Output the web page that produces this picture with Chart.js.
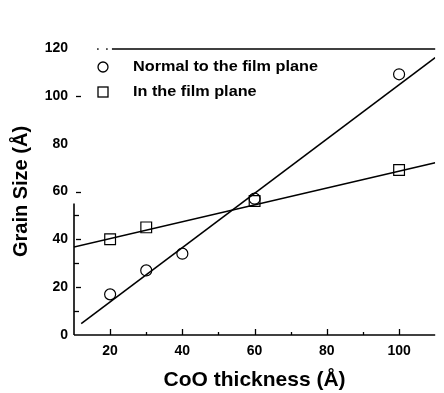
<!DOCTYPE html>
<html lang="en">
<head>
<meta charset="UTF-8">
<title>Grain size vs CoO thickness</title>
<style>
  html, body { margin: 0; padding: 0; background: #fff; }
  canvas { display: block; }
</style>
</head>
<body>
<canvas id="grafico" width="444" height="393"></canvas>

<script src="https://cdn.jsdelivr.net/npm/chart.js"></script>
<script>
// measured grain sizes
const normalThickness = [20, 30, 40, 60, 100]
const normalSize = [17, 27, 34, 57, 109]
const planeThickness = [20, 30, 60, 100]
const planeSize = [40, 45, 56, 69]

// fitted lines, end points only
const normalFitX = [12, 110]
const normalFitY = [4.8, 116]
const planeFitX = [10, 110]
const planeFitY = [36.8, 72]

// tick labels
const xTicks = [20, 40, 60, 80, 100]
const yTicks = [0, 20, 40, 60, 80, 100, 120]

const legendLabels = ['Normal to the film plane', 'In the film plane']

const toPoints = (xs, ys) => xs.map((x, i) => ({ x: x, y: ys[i] }))

// axis frame, inner tick marks and the legend box
const marcoPlugin = {
  id: 'marco',
  afterDraw(chart) {
    const ctx = chart.ctx
    const x = chart.scales.x
    const y = chart.scales.y
    const area = chart.chartArea
    ctx.save()
    ctx.strokeStyle = '#000'
    ctx.fillStyle = '#000'

    // bottom axis
    ctx.lineWidth = 1.6
    ctx.beginPath()
    ctx.moveTo(area.left, area.bottom)
    ctx.lineTo(area.right, area.bottom)
    ctx.stroke()

    // left spine (only the lower part is printed)
    ctx.beginPath()
    ctx.moveTo(area.left, area.bottom)
    ctx.lineTo(area.left, y.getPixelForValue(55))
    ctx.stroke()

    // top frame line with a dotted lead-in
    const topY = y.getPixelForValue(120) + 1
    ctx.lineWidth = 1.4
    ctx.beginPath()
    ctx.moveTo(x.getPixelForValue(20.5), topY)
    ctx.lineTo(area.right, topY)
    ctx.stroke()
    ctx.fillRect(x.getPixelForValue(16.4), topY - 0.7, 1.5, 1.5)
    ctx.fillRect(x.getPixelForValue(18.9), topY - 0.7, 1.5, 1.5)

    // x ticks pointing inward
    ctx.lineWidth = 1.3
    ;[20, 40, 60, 80, 100].forEach(v => {
      const px = Math.round(x.getPixelForValue(v)) + 0.5
      ctx.beginPath()
      ctx.moveTo(px, area.bottom)
      ctx.lineTo(px, area.bottom - 6)
      ctx.stroke()
    })
    ;[30, 50, 70, 90].forEach(v => {
      const px = Math.round(x.getPixelForValue(v)) + 0.5
      ctx.beginPath()
      ctx.moveTo(px, area.bottom)
      ctx.lineTo(px, area.bottom - 3)
      ctx.stroke()
    })

    // y ticks pointing inward
    ;[20, 40, 60, 100].forEach(v => {
      const py = Math.round(y.getPixelForValue(v)) + 0.5
      ctx.beginPath()
      ctx.moveTo(area.left + 2, py)
      ctx.lineTo(area.left + 7, py)
      ctx.stroke()
    })
    ;[10, 30, 50].forEach(v => {
      const py = Math.round(y.getPixelForValue(v)) + 0.5
      ctx.beginPath()
      ctx.moveTo(area.left, py)
      ctx.lineTo(area.left + 5, py)
      ctx.stroke()
    })

    // legend
    const lx = area.left + 29
    const ly1 = 67
    const ly2 = 92
    ctx.lineWidth = 1.3
    ctx.beginPath()
    ctx.arc(lx, ly1, 5, 0, Math.PI * 2)
    ctx.stroke()
    ctx.strokeRect(lx - 5, ly2 - 5, 10, 10)

    ctx.font = 'bold 14px "Liberation Sans", Arial, sans-serif'
    ctx.textBaseline = 'middle'
    ctx.textAlign = 'left'
    ;[ly1, ly2].forEach((ly, i) => {
      ctx.save()
      ctx.translate(lx + 30, ly)
      ctx.scale(1.16, 1)
      ctx.fillText(legendLabels[i], 0, 0)
      ctx.restore()
    })
    ctx.restore()
  }
}

let canvaDom = document.querySelector('#grafico')

new Chart(canvaDom, {
  type: 'scatter',
  data: {
    datasets: [
      {
        label: 'Normal fit',
        type: 'line',
        data: toPoints(normalFitX, normalFitY),
        borderColor: '#000',
        borderWidth: 1.6,
        pointRadius: 0,
        fill: false
      },
      {
        label: 'In-plane fit',
        type: 'line',
        data: toPoints(planeFitX, planeFitY),
        borderColor: '#000',
        borderWidth: 1.6,
        pointRadius: 0,
        fill: false
      },
      {
        label: legendLabels[0],
        data: toPoints(normalThickness, normalSize),
        pointStyle: 'circle',
        pointRadius: 5.5,
        borderColor: '#000',
        borderWidth: 1.2,
        backgroundColor: 'rgba(0,0,0,0)',
        showLine: false
      },
      {
        label: legendLabels[1],
        data: toPoints(planeThickness, planeSize),
        pointStyle: 'rect',
        pointRadius: 7.6,
        borderColor: '#000',
        borderWidth: 1.2,
        backgroundColor: '#fff',
        showLine: false
      }
    ]
  },
  options: {
    responsive: false,
    animation: false,
    layout: { padding: { top: 48, right: 0, left: 0, bottom: 0 } },
    plugins: {
      legend: { display: false },
      tooltip: { enabled: false }
    },
    scales: {
      x: {
        type: 'linear',
        min: 10,
        max: 110,
        grid: { display: false, drawTicks: false },
        border: { display: false },
        afterBuildTicks: (scale) => { scale.ticks = xTicks.map(v => ({ value: v })) },
        afterFit: (scale) => { scale.height = 58 },
        ticks: {
          color: '#000',
          padding: 8,
          maxRotation: 0,
          font: { family: '"Liberation Sans", Arial, sans-serif', size: 14, weight: 'bold' }
        },
        title: {
          display: true,
          text: 'CoO thickness (Å)',
          color: '#000',
          padding: { top: 0, bottom: 0 },
          font: { family: '"Liberation Sans", Arial, sans-serif', size: 21, weight: 'bold' }
        }
      },
      y: {
        type: 'linear',
        min: 0,
        max: 120,
        grid: { display: false, drawTicks: false },
        border: { display: false },
        afterBuildTicks: (scale) => { scale.ticks = yTicks.map(v => ({ value: v })) },
        afterFit: (scale) => { scale.width = 74 },
        ticks: {
          color: '#000',
          padding: 6,
          font: { family: '"Liberation Sans", Arial, sans-serif', size: 14, weight: 'bold' }
        },
        title: {
          display: true,
          text: 'Grain Size (Å)',
          color: '#000',
          padding: { top: 9, bottom: 0 },
          font: { family: '"Liberation Sans", Arial, sans-serif', size: 20, weight: 'bold' }
        }
      }
    }
  },
  plugins: [marcoPlugin]
})
</script>
</body>
</html>
